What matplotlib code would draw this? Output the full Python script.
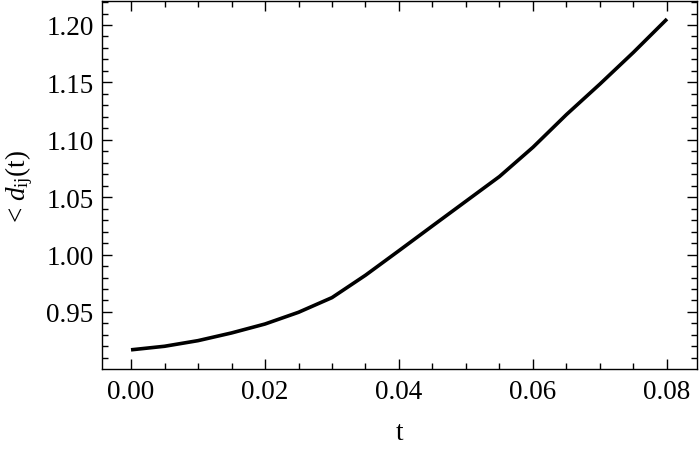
import matplotlib
matplotlib.use('Agg')
import matplotlib.pyplot as plt
import matplotlib.ticker as ticker

# ── data ─────────────────────────────────────────────────────────────────────

t_vals = [0.000, 0.005, 0.010, 0.015, 0.020, 0.025, 0.030, 0.035,
          0.040, 0.045, 0.050, 0.055, 0.060, 0.065, 0.070, 0.075, 0.080]
d_vals = [0.9170, 0.9201, 0.9250, 0.9317, 0.9395, 0.9497, 0.9625, 0.9820,
          1.0034, 1.0250, 1.0465, 1.0680, 1.0935, 1.1220, 1.1486, 1.1762, 1.2052]

x_ticks = [0.00, 0.02, 0.04, 0.06, 0.08]
y_ticks = [0.95, 1.00, 1.05, 1.10, 1.15, 1.20]

# ── theme ────────────────────────────────────────────────────────────────────

plt.rcParams.update({
    'font.family': 'Liberation Serif',
    'mathtext.fontset': 'custom',
    'mathtext.rm': 'Liberation Serif',
    'mathtext.it': 'Liberation Serif:italic',
    'font.size': 19.5,
    'axes.linewidth': 1.0,
})

fig = plt.figure(figsize=(7, 4.52), dpi=100)
ax = fig.add_axes([102 / 700, 1 - 370 / 452, 595 / 700, 368 / 452])

ax.plot(t_vals, d_vals, color='black', lw=2.6, solid_capstyle='butt')

ax.set_xlim(-0.00433, 0.08448)
ax.set_ylim(0.9003, 1.2209)

ax.set_xticks(x_ticks)
ax.set_yticks(y_ticks)
ax.xaxis.set_major_formatter(ticker.FormatStrFormatter('%.2f'))
ax.yaxis.set_major_formatter(ticker.FormatStrFormatter('%.2f'))
ax.xaxis.set_minor_locator(ticker.MultipleLocator(0.005))
ax.yaxis.set_minor_locator(ticker.MultipleLocator(0.01))

ax.tick_params(which='both', direction='in', top=True, right=True,
               width=1.0, labelsize=19.5)
ax.tick_params(axis='x', pad=7)
ax.tick_params(axis='y', pad=6)
ax.tick_params(which='major', length=7)
ax.tick_params(which='minor', length=4)

ax.set_xlabel('t', fontsize=19.5, labelpad=12)
ax.set_ylabel(r'< $d_{\mathrm{ij}}$(t)', fontsize=19.5, labelpad=8)

fig.savefig('out.png', dpi=100, facecolor='white')
